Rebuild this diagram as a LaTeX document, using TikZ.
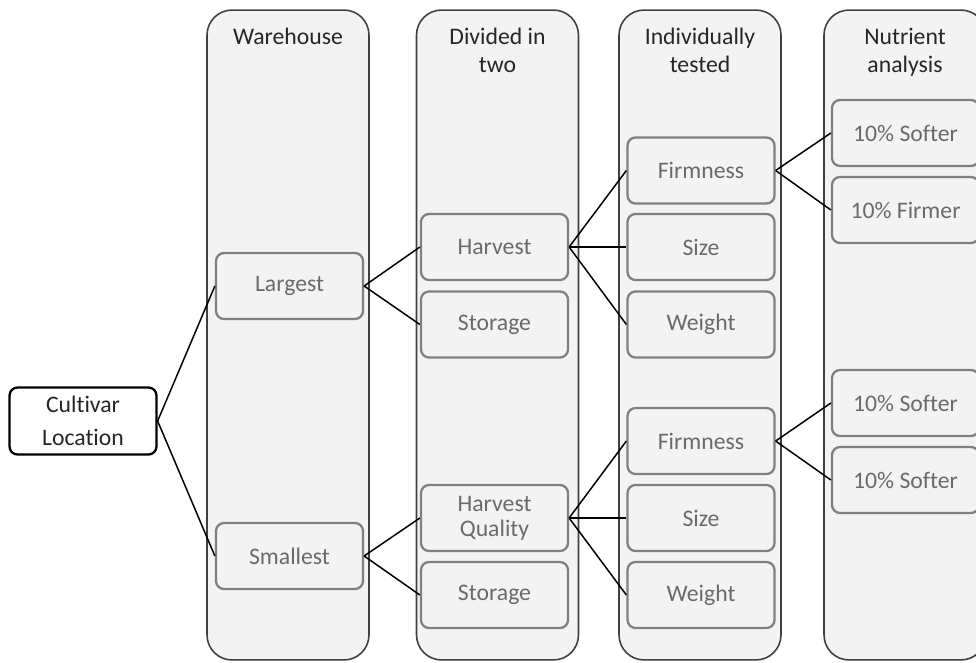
\documentclass[tikz,border=0pt]{standalone}
\usepackage{fontspec}
\setmainfont[Ligatures={NoCommon}]{Carlito}
\usetikzlibrary{positioning}

\definecolor{panel}{HTML}{F3F3F3}
\definecolor{panelline}{HTML}{404040}
\definecolor{boxline}{HTML}{808080}
\definecolor{boxtext}{HTML}{6A6A6A}
\definecolor{headtext}{HTML}{262626}

\begin{document}
\begin{tikzpicture}[x=0.02cm,y=-0.02cm,line width=0.85pt,
	font=\fontsize{13.5}{16}\selectfont,
	lane/.style={draw=panelline,fill=panel,rounded corners=0.5cm,line width=0.9pt,minimum width=3.24cm,minimum height=13cm},
	head/.style={anchor=north,align=center,text=headtext,inner sep=0pt},
	item/.style={draw=boxline,fill=panel,rounded corners=0.16cm,line width=1.3pt,minimum width=2.94cm,minimum height=1.32cm,align=center,text=boxtext},
	root/.style={draw=black,fill=white,rounded corners=0.16cm,line width=1.3pt,minimum width=2.94cm,minimum height=1.34cm,align=center,text=headtext}]
	\clip (0,0) rectangle (976,662);
	\fill[white] (0,0) rectangle (976,662);
	% swim lanes
	\node[lane] (laneA) at (288,335) {};
	\node[lane] (laneB) at (497.5,335) {};
	\node[lane] (laneC) at (700,335) {};
	\node[lane] (laneD) at (905,335) {};
	\node[head] (headA) at (288,27) {Warehouse};
	\node[head] (headB) at (497.5,27) {Divided in\\two};
	\node[head] (headC) at (700,27) {Individually\\tested};
	\node[head] (headD) at (905,27) {Nutrient\\analysis};
	% boxes
	\node[root,font=\fontsize{13.5}{19}\selectfont] (cult) at (83,421) {Cultivar\\Location};
	\node[item] (large) at (289.5,286) {Largest};
	\node[item] (small) at (289.5,556) {Smallest};
	\node[item] (harvA) at (494.5,247) {Harvest};
	\node[item] (storA) at (494.5,324.5) {Storage};
	\node[item,font=\fontsize{13.5}{14}\selectfont] (harvB) at (494.5,518) {Harvest\\Quality};
	\node[item] (storB) at (494.5,595) {Storage};
	\node[item] (firmA) at (701,170.5) {Firmness};
	\node[item] (sizeA) at (701,247) {Size};
	\node[item] (wghtA) at (701,324.5) {Weight};
	\node[item] (firmB) at (701,441) {Firmness};
	\node[item] (sizeB) at (701,518) {Size};
	\node[item] (wghtB) at (701,595) {Weight};
	\node[item] (softA) at (905.5,133) {10\% Softer};
	\node[item] (firmer) at (905.5,210) {10\% Firmer};
	\node[item] (softB) at (905.5,403) {10\% Softer};
	\node[item] (softC) at (905.5,480) {10\% Softer};
	% links
	\draw (cult.east) -- (large.west);
	\draw (cult.east) -- (small.west);
	\draw (large.east) -- (harvA.west);
	\draw (large.east) -- (storA.west);
	\draw (small.east) -- (harvB.west);
	\draw (small.east) -- (storB.west);
	\draw (harvA.east) -- (firmA.west);
	\draw (harvA.east) -- (sizeA.west);
	\draw (harvA.east) -- (wghtA.west);
	\draw (harvB.east) -- (firmB.west);
	\draw (harvB.east) -- (sizeB.west);
	\draw (harvB.east) -- (wghtB.west);
	\draw (firmA.east) -- (softA.west);
	\draw (firmA.east) -- (firmer.west);
	\draw (firmB.east) -- (softB.west);
	\draw (firmB.east) -- (softC.west);
\end{tikzpicture}
\end{document}
